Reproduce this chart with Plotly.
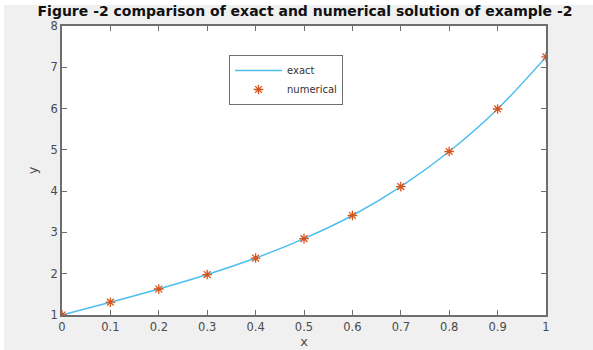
import plotly.graph_objects as go

x_vals = [0, 0.1, 0.2, 0.3, 0.4, 0.5, 0.6, 0.7, 0.8, 0.9, 1.0]
y_exact = [1.0, 1.31, 1.63, 1.98, 2.38, 2.85, 3.41, 4.11, 4.96, 5.99, 7.25]
y_numerical = [1.0, 1.31, 1.63, 1.98, 2.38, 2.85, 3.41, 4.11, 4.96, 5.99, 7.25]
x_ticks = [0, 0.1, 0.2, 0.3, 0.4, 0.5, 0.6, 0.7, 0.8, 0.9, 1]
y_ticks = [1, 2, 3, 4, 5, 6, 7, 8]

fig = go.Figure()
fig.add_trace(go.Scatter(x=x_vals, y=y_exact, mode="lines", name="exact",
                         line=dict(color="#4DBEEE", width=1.5, shape="spline")))
fig.add_trace(go.Scatter(x=x_vals, y=y_numerical, mode="markers", name="numerical",
                         marker=dict(symbol="asterisk-open", size=8, color="#D95319",
                                     line=dict(color="#E8602A", width=1.3))))

axis_common = dict(showline=True, linecolor="#6e6e6e", linewidth=1.5, mirror="ticks",
                   ticks="inside", ticklen=5, tickcolor="#6e6e6e", showgrid=False,
                   zeroline=False, automargin=False,
                   tickfont=dict(family="DejaVu Sans", size=11.5, color="#4a4a4a"))

L, R, T, B = 62, 47, 26, 35
pw = 593 - L - R
ph = 350 - T - B

fig.update_layout(
    width=593, height=350,
    margin=dict(l=L, r=R, t=T, b=B, autoexpand=False),
    paper_bgcolor="#f0f0f0", plot_bgcolor="white",
    title=dict(text="<b>Figure -2 comparison of exact and numerical solution of example -2</b>",
               x=(305) / 593, xref="container", xanchor="center", y=1 - 11 / 350,
               yref="container", yanchor="middle",
               font=dict(family="DejaVu Sans", size=14, color="#111111")),
    xaxis=dict(range=[0, 1], tickvals=x_ticks, ticktext=[str(t) for t in x_ticks],
               title=dict(text="x", standoff=4, font=dict(family="DejaVu Sans", size=13, color="#4a4a4a")),
               **axis_common),
    yaxis=dict(range=[1, 8], tickvals=y_ticks,
               title=dict(text="y", standoff=10, font=dict(family="DejaVu Sans", size=13, color="#4a4a4a")),
               **axis_common),
    legend=dict(x=(229 - L) / pw, y=(315 - 80) / ph, xanchor="left", yanchor="middle", bgcolor="white",
                bordercolor="#6e6e6e", borderwidth=1,
                font=dict(family="DejaVu Sans", size=10, color="#333333"),
                tracegroupgap=0, itemwidth=47),
    showlegend=True,
    shapes=[
        dict(type="rect", xref="paper", yref="paper", x0=-L / pw, x1=(4 - L) / pw,
             y0=-B / ph, y1=(350 - B) / ph, fillcolor="white", line=dict(width=0), layer="below"),
        dict(type="rect", xref="paper", yref="paper", x0=-L / pw, x1=(593 - L) / pw,
             y0=(350 - B - 5) / ph, y1=(350 - B) / ph, fillcolor="white", line=dict(width=0), layer="below"),
    ],
)

fig.write_html("out.html", config={"displayModeBar": False},
               post_script="document.body.style.margin='0';document.body.style.overflow='hidden';")
